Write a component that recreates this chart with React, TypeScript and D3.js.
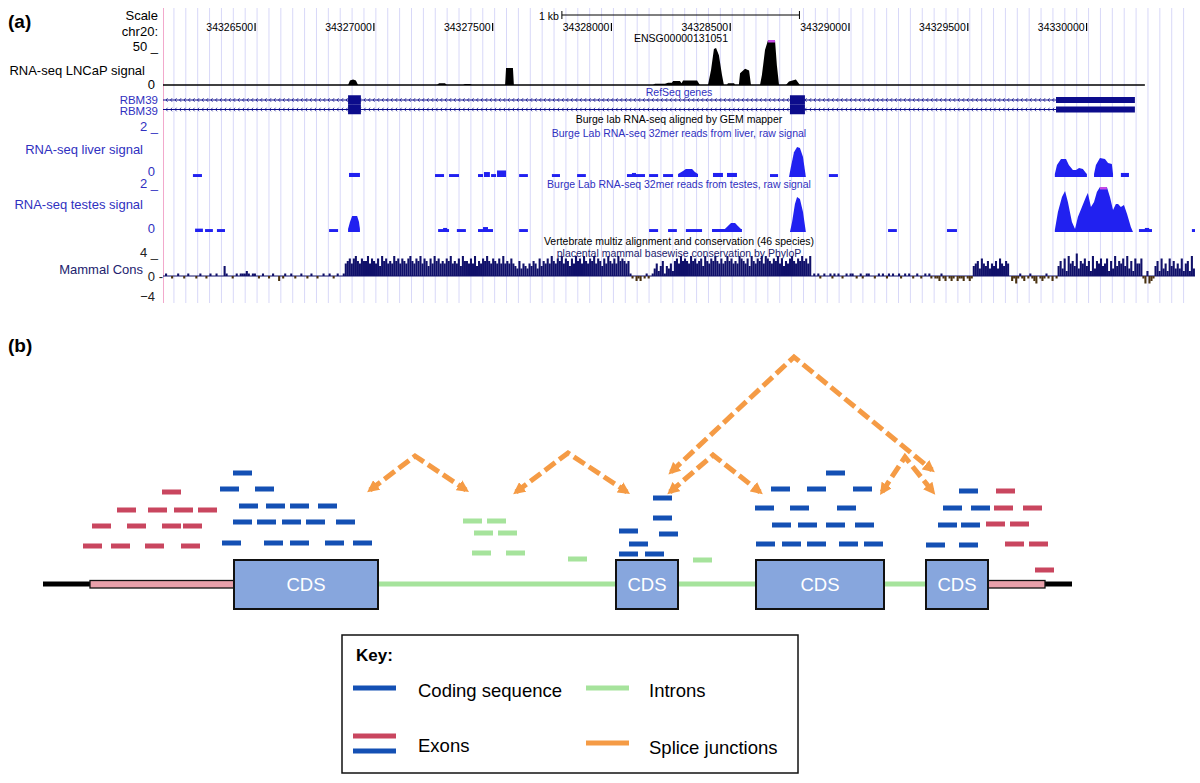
import React from "react";
import * as d3 from "d3";

// ---------- panel (a): browser view of chr20, positions are bp offsets from chromStart ----------
const chromStart = 34326000;
const viewRange = [104, 4448];
const positionTicks = [34326500, 34327000, 34327500, 34328000, 34328500, 34329000, 34329500, 34330000];
const rulerSpan = [1783, 2783];
const gridStep = 50;

// LNCaP RNA-seq signal: [offset, value], scale 0..50
const lncapSignal: [number, number][] = [
  [883, 0], [891, 5], [904, 6], [916, 5], [925, 0],
  [1257, 0], [1266, 2], [1291, 2], [1299, 0],
  [1367, 0], [1375, 1], [1396, 1], [1405, 0],
  [1544, 0], [1548, 19], [1577, 19], [1581, 0],
  [2166, 0], [2175, 1.5], [2217, 1.5], [2230, 2.5], [2246, 2.5], [2251, 4.5], [2280, 4.5], [2287, 2], [2293, 5], [2352, 5], [2364, 0],
  [2398, 0], [2411, 17], [2423, 40], [2432, 41], [2444, 33], [2457, 11], [2465, 0],
  [2478, 0], [2482, 2], [2508, 2], [2512, 0],
  [2528, 0], [2533, 13], [2554, 18], [2571, 16], [2579, 0],
  [2617, 0], [2625, 11], [2638, 39], [2651, 55], [2680, 55], [2688, 22], [2697, 0],
  [2726, 0], [2739, 4], [2768, 6], [2785, 0],
];
const lncapEnd = 4237;

// RBM39 gene model
const geneNames = ["RBM39", "RBM39"];
const geneExons = [[883, 937], [2743, 2806]];
const geneUtr = [[3863, 4195]];

// liver / testes raw signal, scale 0..2 : flat read blocks [start, end, value] + peaks
const liverBlocks: [number, number, number][] = [
  [230, 268, 0.13], [887, 933, 0.18], [1249, 1287, 0.13], [1308, 1350, 0.13],
  [1430, 1451, 0.13], [1455, 1480, 0.22], [1485, 1506, 0.13], [1510, 1548, 0.29],
  [1603, 1640, 0.13], [1741, 1775, 0.13], [1847, 1884, 0.13], [2057, 2133, 0.13],
  [2078, 2095, 0.18], [2150, 2188, 0.13], [2209, 2251, 0.13], [2419, 2461, 0.18],
  [2478, 2520, 0.18], [2659, 2693, 0.13], [2907, 2945, 0.13], [4136, 4170, 0.18],
];
const liverPeaks: [number, number][][] = [
  [[2272, 0.13], [2293, 0.27], [2305, 0.36], [2331, 0.36], [2343, 0.22], [2356, 0.13]],
  [[2739, 0], [2747, 0.44], [2760, 1.1], [2773, 1.33], [2785, 1.29], [2798, 0.89], [2810, 0]],
  [[3858, 0.13], [3867, 0.53], [3884, 0.8], [3905, 0.8], [3917, 0.53], [3934, 0.31], [3947, 0.31], [3960, 0.4], [3976, 0.36], [3989, 0.18], [3993, 0.13]],
  [[4023, 0.13], [4031, 0.53], [4048, 0.84], [4069, 0.8], [4082, 0.62], [4098, 0.58], [4103, 0.13]],
];
const testesBlocks: [number, number, number][] = [
  [239, 272, 0.15], [281, 314, 0.13], [331, 365, 0.13], [803, 841, 0.13],
  [1262, 1308, 0.13], [1283, 1300, 0.18], [1341, 1379, 0.13], [1430, 1493, 0.13],
  [1451, 1472, 0.22], [1603, 1640, 0.13], [2150, 2188, 0.13], [2230, 2267, 0.13],
  [2305, 2373, 0.13], [3156, 3193, 0.13], [3404, 3446, 0.13], [4212, 4267, 0.13],
  [4237, 4255, 0.18], [4435, 4448, 0.13],
];
const testesPeaks: [number, number][][] = [
  [[883, 0.13], [891, 0.44], [900, 0.71], [921, 0.71], [929, 0.44], [933, 0.13]],
  [[2415, 0.13], [2469, 0.13], [2482, 0.27], [2495, 0.4], [2512, 0.4], [2524, 0.27], [2537, 0.13], [2541, 0.13]],
  [[2743, 0], [2752, 0.44], [2764, 1.24], [2773, 1.56], [2785, 1.47], [2798, 0.89], [2810, 0]],
  [[3858, 0.09], [3871, 0.89], [3888, 1.56], [3901, 1.82], [3913, 1.33], [3930, 0.44], [3943, 0.13],
   [3955, 0.67], [3972, 1.11], [3989, 1.56], [3997, 1.73], [4010, 1.11], [4023, 1.33], [4035, 1.78],
   [4048, 2.2], [4077, 2.2], [4090, 1.56], [4103, 0.98], [4115, 1.24], [4124, 1.24], [4136, 1.11],
   [4149, 1.2], [4162, 0.8], [4178, 0.22], [4187, 0]],
];

// PhyloP mammal conservation in 8.5 bp bins; digits = +0.5 steps, letters a..f = -0.5 steps
const consStart = 104;
const consStep = 8.5;
const consCodes = [
  // upstream, weakly conserved
  "0100a00100a01000a0100a01001000" + "4100a010111210110a0100a0100b0a" + "10010a00100a0100a0010010a01001",
  // first coding exon and surrounding
  "5675786576685765748675658675765786576857" + "6475867565768565748665758465768657657585" +
  "6575436354354653746575865768576475867586" + "57685764758657586765" + "6",
  "1a0bab0a1a01",
  "3524614352",
  "6758676586756748657686575686756587657486" + "5768587657685746578657686758",
  "0101a01001a1010a010110a01a01100a01010a10" + "1001a01010a010a0101a0aab1ab0aba0baab0aba",
  "456375463546375465",
  "0baca1ab0a1abc0aba1a0b0a",
  "4637285649365746283657457263846574836275" + "57ac2cba462735274635" + "37256283",
].join("");
const consValues = Array.from(consCodes, (c) =>
  /[0-9]/.test(c) ? Number(c) * 0.5 : -("abcdef".indexOf(c) + 1) * 0.5
);

// ---------- panel (b): schematic of the locus ----------
const flankSpans = [[0, 47], [1002, 1029]];
const utrBlocks = [[47, 191], [945, 1002]];
const cdsBlocks = [[191, 335], [573, 635], [713, 841], [883, 945]];
const intronSpans = [[335, 573], [635, 713], [841, 883]];
const readLength = 19;

// reads: [start, stack level]
const utrReads: [number, number][] = [
  [119, 4.6], [74, 3.7], [105, 3.7], [131, 3.7], [155, 3.7],
  [49, 2.9], [84, 2.9], [119, 2.9], [140, 2.9],
  [40, 1.9], [68, 1.9], [102, 1.9], [138, 1.9],
  [953, 4.65], [951, 3.8], [980, 3.8], [943, 3.0], [967, 3.0], [962, 2.0], [986, 2.0], [992, 0.7],
];
const cdsReads: [number, number][] = [
  [190, 5.55], [177, 4.75], [212, 4.75], [196, 3.9], [223, 3.9], [247, 3.9], [275, 3.9],
  [190, 3.1], [214, 3.1], [239, 3.1], [263, 3.1], [293, 3.1],
  [179, 2.05], [221, 2.05], [247, 2.05], [282, 2.05], [310, 2.05],
  [610, 4.3], [610, 3.3], [576, 2.65], [616, 2.5], [586, 2.0], [576, 1.5], [602, 1.5],
  [783, 5.55], [728, 4.75], [764, 4.75], [810, 4.75], [712, 3.8], [747, 3.8], [794, 3.8],
  [729, 2.95], [755, 2.95], [783, 2.95], [812, 2.95],
  [713, 2.0], [739, 2.0], [764, 2.0], [796, 2.0], [821, 2.0],
  [916, 4.65], [900, 3.8], [928, 3.8], [895, 2.95], [918, 2.95], [883, 1.95], [916, 1.95],
];
const intronReads: [number, number][] = [
  [420, 3.15], [444, 3.15], [431, 2.55], [455, 2.55], [429, 1.55], [463, 1.55], [525, 1.25], [650, 1.2],
];
const spliceJunctions: [number, number][][] = [
  [[327, 4.7], [372, 6.4], [423, 4.7]],
  [[473, 4.6], [525, 6.55], [584, 4.6]],
  [[628, 5.6], [751, 11.35], [889, 5.7]],
  [[627, 4.6], [670, 6.45], [717, 4.6]],
  [[839, 4.6], [862, 6.35], [890, 4.6]],
];
const keyLabels = ["Coding sequence", "Introns", "Exons", "Splice junctions"];

const C = {
  grid: "#d8d8f8",
  border: "#f2a9cc",
  gene: "#0c0c8c",
  label: "#3030c0",
  signal: "#2121f0",
  clip: "#c64ae6",
  consPos: "#10106a",
  consNeg: "#4a3210",
  navyText: "#22226e",
  cdsRead: "#1450b4",
  utrRead: "#c9465f",
  intron: "#a6e39c",
  splice: "#f59b45",
  cdsFill: "#87a6dd",
  utrFill: "#e8a0aa",
};

function clipSpans(pts: [number, number][], max: number) {
  const out: [number, number][] = [];
  for (let i = 0; i < pts.length - 1; i++) {
    if (pts[i][1] > max && pts[i + 1][1] > max) out.push([pts[i][0], pts[i + 1][0]]);
  }
  return out;
}

export default function App() {
  const x = d3.scaleLinear().domain(viewRange).range([163, 1195]);
  const yLncap = d3.scaleLinear().domain([0, 50]).range([85, 40]);
  const yLiver = d3.scaleLinear().domain([0, 2]).range([177, 132]);
  const yTestes = d3.scaleLinear().domain([0, 2]).range([232, 187]);
  const yCons = d3.scaleLinear().domain([-4, 4]).range([296, 256]);

  const grid = d3.range(150, viewRange[1], gridStep);

  const areaFor = (y: d3.ScaleLinear<number, number>, max: number) =>
    d3
      .area<[number, number]>()
      .x((d) => x(d[0]))
      .y0(y(0))
      .y1((d) => y(Math.min(d[1], max)));

  const lncapArea = areaFor(yLncap, 50);
  const liverArea = areaFor(yLiver, 2);
  const testesArea = areaFor(yTestes, 2);

  const geneRows = [100, 109.5];
  const chevrons = d3.range(x(viewRange[0]) + 3, x(geneUtr[0][0]) - 2, 4.5);

  const consW = x(consStart + consStep) - x(consStart);

  // panel b scales
  const sx = d3.scaleLinear().domain([0, 1030]).range([43, 1073]);
  const sy = d3.scaleLinear().domain([0, 10]).range([584, 384]);
  const junctionLine = d3
    .line<[number, number]>()
    .x((d) => sx(d[0]))
    .y((d) => sy(d[1]));

  const readRects = (reads: [number, number][], color: string, key: string) =>
    reads.map((r, i) => (
      <rect
        key={key + i}
        x={sx(r[0])}
        y={sy(r[1]) - 2.5}
        width={sx(r[0] + readLength) - sx(r[0])}
        height={5}
        fill={color}
      />
    ));

  const leftLabels: [string, number, number, string, number][] = [
    ["Scale", 158, 20, "#000", 13],
    ["chr20:", 158, 36, "#000", 13],
    ["50 _", 158, 51, "#000", 13],
    ["RNA-seq LNCaP signal", 145, 75, "#000", 13],
    ["0", 155, 89, "#000", 13],
    [geneNames[0], 158, 104, C.label, 11.5],
    [geneNames[1], 158, 114.5, C.label, 11.5],
    ["2 _", 158, 131, C.label, 13],
    ["RNA-seq liver signal", 143, 154, C.label, 13],
    ["0", 155, 175.5, C.label, 13],
    ["2 _", 158, 188, C.label, 13],
    ["RNA-seq testes signal", 143, 209, C.label, 13],
    ["0", 155, 233, C.label, 13],
    ["4 _", 158, 257, "#222", 13],
    ["Mammal Cons", 143, 274, C.navyText, 13],
    ["0 -", 163, 281, "#222", 13],
    ["\u22124", 155, 301, "#222", 13],
  ];

  const centerTitles: [string, number, string][] = [
    ["RefSeq genes", 96, C.label],
    ["Burge lab RNA-seq aligned by GEM mapper", 123, "#000"],
    ["Burge Lab RNA-seq 32mer reads from liver, raw signal", 137, C.label],
    ["Burge Lab RNA-seq 32mer reads from testes, raw signal", 188, C.label],
    ["Vertebrate multiz alignment and conservation (46 species)", 245, "#000"],
    ["placental mammal basewise conservation by PhyloP", 257, C.navyText],
  ];

  return (
    <svg
      width={1200}
      height={783}
      style={{ position: "absolute", left: 0, top: 0, background: "#fff" }}
      fontFamily="'Liberation Sans', Arial, Helvetica, sans-serif"
    >
      <defs>
        <clipPath id="dataClip">
          <rect x={163} y={0} width={1032} height={310} />
        </clipPath>
        <marker
          id="arrow"
          viewBox="0 0 10 10"
          refX="7"
          refY="5"
          markerWidth="12"
          markerHeight="12"
          markerUnits="userSpaceOnUse"
          orient="auto-start-reverse"
        >
          <path d="M0,0 L10,5 L0,10 z" fill={C.splice} />
        </marker>
      </defs>
      <rect width={1200} height={783} fill="#fff" />

      {/* ---------------- (a) ---------------- */}
      <text x={8} y={28} fontSize={19} fontWeight="bold">(a)</text>

      {grid.map((g) => (
        <line key={"g" + g} x1={x(g)} x2={x(g)} y1={8} y2={303} stroke={C.grid} strokeWidth={1} />
      ))}
      <line x1={163.5} x2={163.5} y1={8} y2={303} stroke={C.border} strokeWidth={1} />

      {leftLabels.map(([t, lx, ly, col, fs], i) => (
        <text key={"ll" + i} x={lx} y={ly} textAnchor="end" fontSize={fs} fill={col}>{t}</text>
      ))}

      {/* ruler */}
      <text x={x(rulerSpan[0]) - 3} y={20} textAnchor="end" fontSize={10.5}>1 kb</text>
      <line x1={x(rulerSpan[0])} x2={x(rulerSpan[1])} y1={15} y2={15} stroke="#000" strokeWidth={1} />
      <line x1={x(rulerSpan[0])} x2={x(rulerSpan[0])} y1={11} y2={19} stroke="#000" strokeWidth={1} />
      <line x1={x(rulerSpan[1])} x2={x(rulerSpan[1])} y1={11} y2={19} stroke="#000" strokeWidth={1} />

      {positionTicks.map((p) => (
        <g key={"t" + p}>
          <text x={x(p - chromStart) - 4} y={31} textAnchor="end" fontSize={10.5}>{p}</text>
          <line x1={x(p - chromStart) - 2} x2={x(p - chromStart) - 2} y1={23} y2={31} stroke="#000" strokeWidth={1.2} />
        </g>
      ))}
      <text x={681} y={42} textAnchor="middle" fontSize={10.5}>ENSG00000131051</text>

      {centerTitles.map(([t, ty, col], i) => (
        <text key={"ct" + i} x={679} y={ty} textAnchor="middle" fontSize={10.5} fill={col}>{t}</text>
      ))}

      <g clipPath="url(#dataClip)">
        {/* LNCaP */}
        <path d={lncapArea(lncapSignal) ?? ""} fill="#000" />
        {clipSpans(lncapSignal, 50).map(([a, b], i) => (
          <rect key={"lc" + i} x={x(a)} y={yLncap(50)} width={x(b) - x(a)} height={2.5} fill={C.clip} />
        ))}
        <line x1={x(viewRange[0])} x2={x(lncapEnd)} y1={yLncap(0)} y2={yLncap(0)} stroke="#000" strokeWidth={1.5} />

        {/* gene model */}
        {geneRows.map((gy, r) => (
          <g key={"row" + r}>
            <line x1={x(viewRange[0])} x2={x(geneUtr[0][0])} y1={gy} y2={gy} stroke={C.gene} strokeWidth={1} />
            <path
              d={chevrons.map((cx) => `M${cx + 1.6},${gy - 1.8}L${cx},${gy}L${cx + 1.6},${gy + 1.8}`).join("")}
              fill="none"
              stroke={C.gene}
              strokeWidth={0.8}
            />
            {geneExons.map(([a, b], i) => (
              <rect key={"ex" + i} x={x(a)} y={gy - 4.75} width={x(b) - x(a)} height={9.5} fill={C.gene} />
            ))}
            {geneUtr.map(([a, b], i) => (
              <rect key={"ut" + i} x={x(a)} y={gy - 3} width={x(b) - x(a)} height={6} fill={C.gene} />
            ))}
          </g>
        ))}

        {/* liver */}
        {liverBlocks.map(([a, b, v], i) => (
          <rect key={"lb" + i} x={x(a)} y={yLiver(v)} width={x(b) - x(a)} height={yLiver(0) - yLiver(v)} fill={C.signal} />
        ))}
        {liverPeaks.map((p, i) => (
          <path key={"lp" + i} d={liverArea(p) ?? ""} fill={C.signal} />
        ))}

        {/* testes */}
        {testesBlocks.map(([a, b, v], i) => (
          <rect key={"tb" + i} x={x(a)} y={yTestes(v)} width={x(b) - x(a)} height={yTestes(0) - yTestes(v)} fill={C.signal} />
        ))}
        {testesPeaks.map((p, i) => (
          <path key={"tp" + i} d={testesArea(p) ?? ""} fill={C.signal} />
        ))}
        {testesPeaks.flatMap((p, i) =>
          clipSpans(p, 2).map(([a, b], j) => (
            <rect key={"tc" + i + "_" + j} x={x(a)} y={yTestes(2)} width={x(b) - x(a)} height={2.5} fill={C.clip} />
          ))
        )}

        {/* conservation */}
        <line x1={x(viewRange[0])} x2={x(viewRange[1])} y1={yCons(0)} y2={yCons(0)} stroke={C.consPos} strokeWidth={1} />
        {consValues.map((v, i) => {
          const cx = x(consStart + i * consStep);
          return (
            <rect
              key={"cs" + i}
              x={cx}
              y={Math.min(yCons(v), yCons(0))}
              width={consW + 0.05}
              height={Math.abs(yCons(v) - yCons(0))}
              fill={v >= 0 ? C.consPos : C.consNeg}
            />
          );
        })}
      </g>

      {/* ---------------- (b) ---------------- */}
      <text x={8} y={352} fontSize={19} fontWeight="bold">(b)</text>

      {spliceJunctions.map((j, i) => (
        <path
          key={"sj" + i}
          d={junctionLine(j) ?? ""}
          fill="none"
          stroke={C.splice}
          strokeWidth={5}
          strokeDasharray="13 5"
          markerStart="url(#arrow)"
          markerEnd="url(#arrow)"
        />
      ))}

      {readRects(utrReads, C.utrRead, "ur")}
      {readRects(cdsReads, C.cdsRead, "cr")}
      {readRects(intronReads, C.intron, "ir")}

      {flankSpans.map(([a, b], i) => (
        <rect key={"fl" + i} x={sx(a)} y={sy(0) - 2.5} width={sx(b) - sx(a)} height={5} fill="#000" />
      ))}
      {intronSpans.map(([a, b], i) => (
        <rect key={"in" + i} x={sx(a)} y={sy(0) - 2.5} width={sx(b) - sx(a)} height={5} fill={C.intron} />
      ))}
      {utrBlocks.map(([a, b], i) => (
        <rect key={"ub" + i} x={sx(a)} y={sy(0) - 3.5} width={sx(b) - sx(a)} height={7.5} fill={C.utrFill} stroke="#111" strokeWidth={1.3} />
      ))}
      {cdsBlocks.map(([a, b], i) => (
        <g key={"cb" + i}>
          <rect x={sx(a)} y={sy(0) - 24} width={sx(b) - sx(a)} height={49} fill={C.cdsFill} stroke="#111" strokeWidth={2} />
          <text x={(sx(a) + sx(b)) / 2} y={sy(0) + 7} textAnchor="middle" fontSize={18.5} fill="#fff">CDS</text>
        </g>
      ))}

      {/* key */}
      <rect x={342} y={635} width={456} height={138} fill="#fff" stroke="#111" strokeWidth={1.5} />
      <text x={356} y={661} fontSize={17} fontWeight="bold">Key:</text>
      <rect x={353} y={685.5} width={43} height={5} fill={C.cdsRead} />
      <text x={418} y={697} fontSize={18.5}>{keyLabels[0]}</text>
      <rect x={586} y={685.5} width={43} height={5} fill={C.intron} />
      <text x={649} y={697} fontSize={18.5}>{keyLabels[1]}</text>
      <rect x={353} y={733.5} width={43} height={5} fill={C.utrRead} />
      <rect x={353} y={748.5} width={43} height={5} fill={C.cdsRead} />
      <text x={418} y={752} fontSize={18.5}>{keyLabels[2]}</text>
      <rect x={586} y={740.5} width={43} height={5} fill={C.splice} />
      <text x={649} y={754} fontSize={18.5}>{keyLabels[3]}</text>
    </svg>
  );
}
